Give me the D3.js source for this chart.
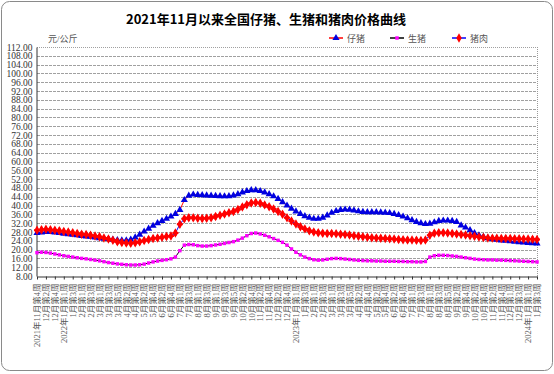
<!DOCTYPE html>
<html>
<head>
<meta charset="utf-8">
<script src="https://cdn.jsdelivr.net/npm/d3@7/dist/d3.min.js"></script>
<style>
body{margin:0;background:#fff;}
svg text{font-family:"Liberation Serif","Noto Sans CJK SC",serif;}
</style>
</head>
<body>
<div id="chart"></div>
<script>
// 每两周一个刻度标签（周度数据，2021年11月第4周 ~ 2024年1月第3周）
var tickLabels = ["2021年11月第4周","12月第2周","12月第4周","2022年1月第1周","1月第3周","2月第1周","2月第3周",
  "3月第1周","3月第3周","3月第5周","4月第2周","4月第4周","5月第2周","5月第4周","6月第2周","6月第4周",
  "7月第1周","7月第3周","8月第1周","8月第3周","9月第1周","9月第3周","9月第5周","10月第2周","10月第4周",
  "11月第2周","11月第4周","12月第2周","12月第4周","2023年1月第1周","1月第3周","2月第1周","2月第3周",
  "3月第1周","3月第3周","3月第5周","4月第2周","4月第4周","5月第2周","5月第4周","6月第2周","6月第4周",
  "7月第1周","7月第3周","8月第1周","8月第3周","8月第5周","9月第2周","9月第4周","10月第2周","10月第4周",
  "11月第2周","11月第4周","12月第1周","12月第3周","2024年1月第1周","1月第3周"];

// 仔猪 元/公斤
var zizhu = [27.5,27.8,28,28,27.8,27.5,27.2,27,26.8,26.5,26.2,26,25.8,25.5,25.2,25,24.8,24.5,24.3,24.2,
  24.2,24.5,25.5,26.8,28.2,29.5,30.8,32,33,34,35,36.2,38,42.5,44.5,45,44.8,44.7,44.6,44.5,
  44.4,44.3,44.2,44.3,44.6,45.2,46,46.6,47,47,46.6,46,45.2,44.2,43,41.5,40,38.6,37.3,36.2,
  35.2,34.5,34,34,34.5,35.5,36.7,37.5,38,38.2,38.1,37.8,37.4,37.1,37,37,37,36.9,36.8,36.6,
  36.2,35.7,35,34.2,33.4,32.6,32,31.6,31.8,32.4,33,33.2,33.2,33,32.6,31,30,28.8,27.5,26.5,
  25.8,25.2,24.8,24.5,24.2,24,23.8,23.6,23.4,23.2,23,22.9,22.8];
// 生猪
var shengzhu = [18.6,18.8,18.7,18.4,18,17.6,17.2,16.9,16.6,16.3,16,15.8,15.5,15.2,14.9,14.5,14.1,13.8,13.5,13.3,
  13.1,13,13,13.1,13.4,13.9,14.4,14.8,15.1,15.4,15.8,16.6,19.5,22,22.3,22.2,21.8,21.6,21.6,21.8,
  22.1,22.4,22.8,23.2,23.6,24.3,25.2,26.3,27.3,27.5,27.1,26.5,25.8,25,24.2,23.3,22,20.3,18.8,17.6,
  16.6,15.9,15.4,15.2,15.3,15.6,15.9,16,15.9,15.7,15.5,15.3,15.1,15,14.9,14.9,14.8,14.8,14.7,14.7,
  14.7,14.6,14.6,14.5,14.5,14.4,14.4,14.6,16.6,17.2,17.4,17.4,17.3,17.1,16.9,16.6,16.3,16,15.7,15.5,
  15.4,15.3,15.3,15.2,15.2,15.1,15,14.9,14.8,14.7,14.6,14.5,14.4];
// 猪肉
var zhurou = [28.8,29,29.2,29,28.8,28.5,28.2,28,27.6,27.3,27,26.8,26.5,26.2,25.8,25.3,24.8,24.2,23.6,23.2,
  23,22.9,23.1,23.6,24.1,24.6,25,25.3,25.6,25.9,26.2,27.5,31.5,34,34.5,34.4,34.2,34.1,34.2,34.5,
  35,35.6,36.2,36.7,37.3,38.2,39.3,40.4,41.2,41.4,41,40.3,39.4,38.4,37.3,36,34.5,33,31.6,30.4,
  29.4,28.6,28,27.6,27.4,27.3,27.3,27.2,27,26.8,26.6,26.3,26,25.8,25.6,25.4,25.3,25.1,25,24.9,
  24.8,24.6,24.5,24.4,24.3,24.2,24.1,24.3,26.5,27.4,27.6,27.6,27.5,27.3,27.1,26.9,26.6,26.3,26,25.7,
  25.5,25.3,25.2,25.1,25,25,25,24.9,24.9,24.8,24.8,24.7,24.6];

var seriesNames = ["仔猪","生猪","猪肉"];
var yTicks = d3.range(8, 113, 4);

var W = 554, H = 374;
var margin = {top:47, right:17, bottom:98, left:37};

var svg = d3.select("#chart").append("svg")
    .attr("width", W)
    .attr("height", H);

// 外框
svg.append("rect")
    .attr("x", 1.5).attr("y", 1.5)
    .attr("width", W - 3).attr("height", H - 5)
    .attr("rx", 8).attr("ry", 8)
    .attr("fill", "#fff")
    .attr("stroke", "#8a8a8a")
    .attr("stroke-width", 1);

var x = d3.scaleLinear()
    .domain([0, zizhu.length - 1])
    .range([margin.left, W - margin.right]);
var y = d3.scaleLinear()
    .domain([8, 112])
    .range([H - margin.bottom, margin.top]);

// 标题
svg.append("text")
    .attr("x", 266).attr("y", 24)
    .attr("text-anchor", "middle")
    .style("font-family", "'Noto Sans CJK SC',sans-serif")
    .style("font-weight", "bold")
    .style("font-size", "13px")
    .text("2021年11月以来全国仔猪、生猪和猪肉价格曲线");

svg.append("text")
    .attr("x", 48).attr("y", 42)
    .style("font-size", "9px")
    .attr("fill", "#555")
    .text("元/公斤");

// 网格线
svg.append("g")
    .selectAll("line")
    .data(yTicks.slice(1))
    .enter().append("line")
    .attr("x1", x.range()[0]).attr("x2", x.range()[1])
    .attr("y1", function(d){ return Math.round(y(d)) + 0.5; })
    .attr("y2", function(d){ return Math.round(y(d)) + 0.5; })
    .attr("stroke", "#a0a0a0")
    .attr("stroke-dasharray", d => d == 112 ? "1,1" : "3,1");

// 右边框
svg.append("line")
    .attr("x1", x.range()[1] + 0.5).attr("x2", x.range()[1] + 0.5)
    .attr("y1", y(112)).attr("y2", y(8))
    .attr("stroke", "#9a9a9a")
    .attr("stroke-dasharray", "1,1");

// y轴
var yAxis = svg.append("g")
    .attr("transform", "translate(" + (margin.left - 0.5) + ",0)")
    .call(d3.axisLeft(y).tickValues(yTicks).tickFormat(d3.format(".2f")).tickSize(0).tickPadding(4));
yAxis.select(".domain").attr("stroke", "#333");
yAxis.selectAll("text")
    .style("font-size", "9.5px")
    .style("font-family", "'Liberation Serif',serif")
    .attr("fill", "#333");

// x轴
var xAxis = svg.append("g")
    .attr("transform", "translate(0," + (Math.round(y(8)) + 0.5) + ")")
    .call(d3.axisBottom(x)
        .tickValues(d3.range(0, zizhu.length, 2))
        .tickFormat(function(d){ return tickLabels[d / 2]; })
        .tickSize(3)
        .tickSizeOuter(0));
xAxis.select(".domain").attr("stroke", "#333");
xAxis.selectAll(".tick line").attr("stroke", "#333");
xAxis.selectAll("text")
    .style("font-size", "8.5px")
    .attr("fill", "#555")
    .attr("text-anchor", "end")
    .attr("transform", "rotate(-90)")
    .attr("x", -7)
    .attr("y", 0)
    .attr("dy", "0.32em");

// 系列
var series = [
    {name: seriesNames[0], values: zizhu, line: "#ff0000", marker: d3.symbolTriangle, size: 22, color: "#0000e0"},
    {name: seriesNames[1], values: shengzhu, line: "#000000", marker: d3.symbolSquare, size: 12, color: "#ff00ff"},
    {name: seriesNames[2], values: zhurou, line: "#0000ff", marker: d3.symbolDiamond, size: 26, color: "#ff0000"}
];

var line = d3.line()
    .x(function(d, i){ return x(i); })
    .y(function(d){ return y(d); });

series.forEach(function(s){
    var g = svg.append("g");
    g.append("path")
        .datum(s.values)
        .attr("d", line)
        .attr("fill", "none")
        .attr("stroke", s.line)
        .attr("stroke-width", 1);
    g.selectAll("path.m")
        .data(s.values)
        .enter().append("path")
        .attr("class", "m")
        .attr("transform", function(d, i){ return "translate(" + x(i) + "," + y(d) + ")"; })
        .attr("d", d3.symbol().type(s.marker).size(s.size))
        .attr("fill", s.color);
    if (s.marker === d3.symbolDiamond) {
        g.selectAll("path.m2")
            .data(s.values)
            .enter().append("path")
            .attr("transform", function(d, i){ return "translate(" + x(i) + "," + y(d) + ")"; })
            .attr("d", d3.symbol().type(d3.symbolCross).size(20))
            .attr("fill", s.color);
    }
});

// 图例
var legendX = [329, 390, 452];
var legend = svg.append("g");
series.forEach(function(s, i){
    var lg = legend.append("g").attr("transform", "translate(" + legendX[i] + ",38)");
    lg.append("line").attr("x1", 0).attr("x2", 14).attr("stroke", s.line).attr("stroke-width", 1.5);
    lg.append("path")
        .attr("transform", "translate(7,0)")
        .attr("d", d3.symbol().type(s.marker).size(s.size))
        .attr("fill", s.color);
    lg.append("text")
        .attr("x", 18).attr("y", 3.5)
        .style("font-size", "9px")
        .attr("fill", "#555")
        .text(s.name);
});
</script>
</body>
</html>
